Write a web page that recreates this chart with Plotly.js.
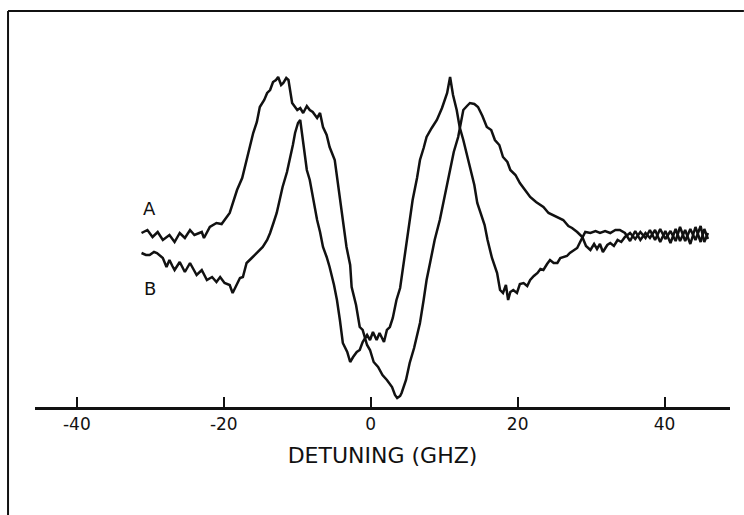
<!DOCTYPE html>
<html>
<head>
<meta charset="utf-8">
<script src="https://cdn.plot.ly/plotly-3.0.1.min.js"></script>
<style>html,body{margin:0;padding:0;background:#fff;}#chart{width:744px;height:515px;}</style>
</head>
<body>
<div id="chart"></div>
<script>
// Detuning (GHz) and signal (arbitrary units)
const xA = [-31.2,-30.4,-29.7,-29.0,-28.3,-27.4,-26.7,-26.0,-25.3,-24.6,-24.0,-23.0,-22.7,-21.9,-21.0,-20.3,-19.2,-18.8,-18.2,-17.5,-16.9,-16.5,-16.0,-15.5,-15.1,-14.5,-14.1,-13.7,-13.3,-12.9,-12.6,-12.2,-11.9,-11.5,-11.2,-10.7,-10.0,-9.6,-9.2,-8.7,-8.3,-7.9,-7.3,-6.9,-6.5,-6.0,-5.6,-4.9,-4.2,-3.8,-3.3,-2.8,-2.6,-2.0,-1.5,-1.1,-0.5,-0.1,0.4,1.0,1.6,2.2,2.9,3.3,3.6,4.0,4.2,4.8,5.3,5.9,6.7,7.2,7.6,8.1,8.7,9.4,10.1,10.8,11.3,11.9,12.3,12.6,13.1,13.5,14.1,14.6,15.2,15.8,16.4,16.9,17.5,18.0,18.6,19.0,19.7,20.3,21.0,21.7,22.5,23.5,24.2,24.8,25.5,26.2,26.9,27.4,28.1,28.8,29.3,29.9,30.4,30.8,31.2,31.6,32.2,32.6,33.1,33.6,34.1,34.6,35.3,36.0,36.7,37.4,38.0,38.7,39.4,40.1,40.8,41.5,42.1,42.8,43.5,44.2,44.9,45.4,45.9];
const yA = [174,177,170,175,167,172,165,174,169,177,172,175,169,180,184,183,194,204,217,229,247,257,274,285,300,307,314,317,325,327,330,322,324,329,327,304,297,299,294,301,297,295,289,294,280,272,260,247,207,187,160,142,120,102,80,77,62,57,45,40,32,27,20,12,9,11,14,27,44,59,84,107,127,145,167,187,212,237,255,270,285,297,301,304,303,300,291,280,277,267,262,250,245,237,232,224,217,210,205,200,194,192,189,187,181,179,175,170,161,157,163,158,163,155,162,164,161,167,165,170,174,168,175,169,177,167,178,168,176,166,180,166,178,167,181,165,174];

const xB = [-31.2,-30.6,-30.1,-29.5,-29.1,-28.7,-28.3,-27.8,-27.4,-27.0,-26.7,-26.0,-25.3,-24.6,-24.1,-23.7,-23.0,-22.3,-21.6,-21.0,-20.5,-19.9,-19.2,-18.8,-18.4,-17.8,-17.4,-16.9,-16.2,-15.5,-15.1,-14.7,-14.1,-13.7,-13.2,-12.8,-12.4,-12.0,-11.4,-11.0,-10.6,-10.3,-9.9,-9.6,-9.2,-8.7,-8.3,-8.0,-7.6,-7.3,-6.9,-6.5,-6.0,-5.6,-5.0,-4.6,-4.2,-3.8,-3.2,-2.8,-2.4,-1.9,-1.5,-1.1,-0.5,-0.1,0.3,0.8,1.2,1.8,2.2,2.6,3.0,3.5,4.0,4.4,4.9,5.3,5.7,6.3,6.7,7.2,7.6,8.3,9.0,9.7,10.4,10.8,11.2,11.7,12.1,12.6,13.1,13.5,14.1,14.5,14.9,15.5,15.9,16.5,17.2,17.6,18.0,18.4,18.7,19.0,19.4,19.9,20.3,20.8,21.3,21.7,22.2,22.7,23.1,23.5,24.0,24.4,24.9,25.4,25.8,26.2,26.7,27.1,27.7,28.1,28.5,28.8,29.2,29.9,30.6,31.2,31.9,32.6,33.3,33.9,34.6,35.3,36.0,36.7,37.4,38.0,38.7,39.4,40.1,40.8,41.5,42.1,42.8,43.5,44.2,44.9,45.4,45.9];
const yB = [154,152,152,155,154,151,149,140,147,141,137,145,135,144,137,132,137,127,130,125,130,124,122,114,120,129,130,144,149,154,157,160,167,174,185,194,207,220,235,247,262,274,284,287,264,237,227,214,200,187,175,160,150,140,122,107,87,64,55,45,50,55,57,65,72,67,75,67,74,65,77,80,89,107,119,140,167,185,207,229,247,259,270,279,287,299,314,330,312,297,280,267,252,240,222,204,195,182,167,149,134,117,114,122,107,115,117,114,123,124,121,127,131,134,138,137,143,147,144,144,149,150,151,154,157,159,165,170,175,174,176,174,176,174,177,177,174,166,176,167,174,169,177,165,176,164,178,166,177,163,180,165,178,168];

const tickVals = [-40,-20,0,20,40];
const tickText = ['-40','-20','0','20','40'];
const curveLabels = ['A','B'];
const labelX = [-30.1,-30.1];
const labelY = [199,119];

const lineStyle = {color:'#111', width:2.5};
const data = [
  {x:xA, y:yA, type:'scatter', mode:'lines', line:lineStyle, name:'A', hoverinfo:'skip'},
  {x:xB, y:yB, type:'scatter', mode:'lines', line:lineStyle, name:'B', hoverinfo:'skip'}
];

const font = 'DejaVu Sans, Liberation Sans, Arial, sans-serif';
const layout = {
  width:744, height:515,
  margin:{l:35, r:14, t:7, b:108, pad:0},
  paper_bgcolor:'#fff', plot_bgcolor:'#fff',
  showlegend:false,
  font:{family:font, color:'#111'},
  xaxis:{
    range:[-45.7,48.9], showgrid:false, zeroline:false,
    showline:true, linecolor:'#111', linewidth:2.5,
    ticks:'inside', ticklen:10, tickwidth:2, tickcolor:'#111',
    tickvals:tickVals, ticktext:tickText,
    tickfont:{family:font, size:17, color:'#111'},
    title:{text:'DETUNING (GHZ)', font:{family:font, size:22, color:'#111'}, standoff:15},
    automargin:false, fixedrange:true
  },
  yaxis:{range:[0,400], visible:false, fixedrange:true},
  annotations: curveLabels.map((t,i)=>({x:labelX[i], y:labelY[i], xref:'x', yref:'y', text:t, showarrow:false, font:{family:font, size:18, color:'#111'}})),
  shapes:[
    {type:'line', xref:'paper', yref:'paper', x0:-0.0388, x1:-0.0388, y0:0.99, y1:-0.27, line:{color:'#111', width:2}},
    {type:'line', xref:'paper', yref:'paper', x0:-0.0388, x1:1.02, y0:0.99, y1:0.99, line:{color:'#111', width:2}}
  ]
};
Plotly.newPlot('chart', data, layout, {staticPlot:true, displayModeBar:false});
</script>
</body>
</html>
